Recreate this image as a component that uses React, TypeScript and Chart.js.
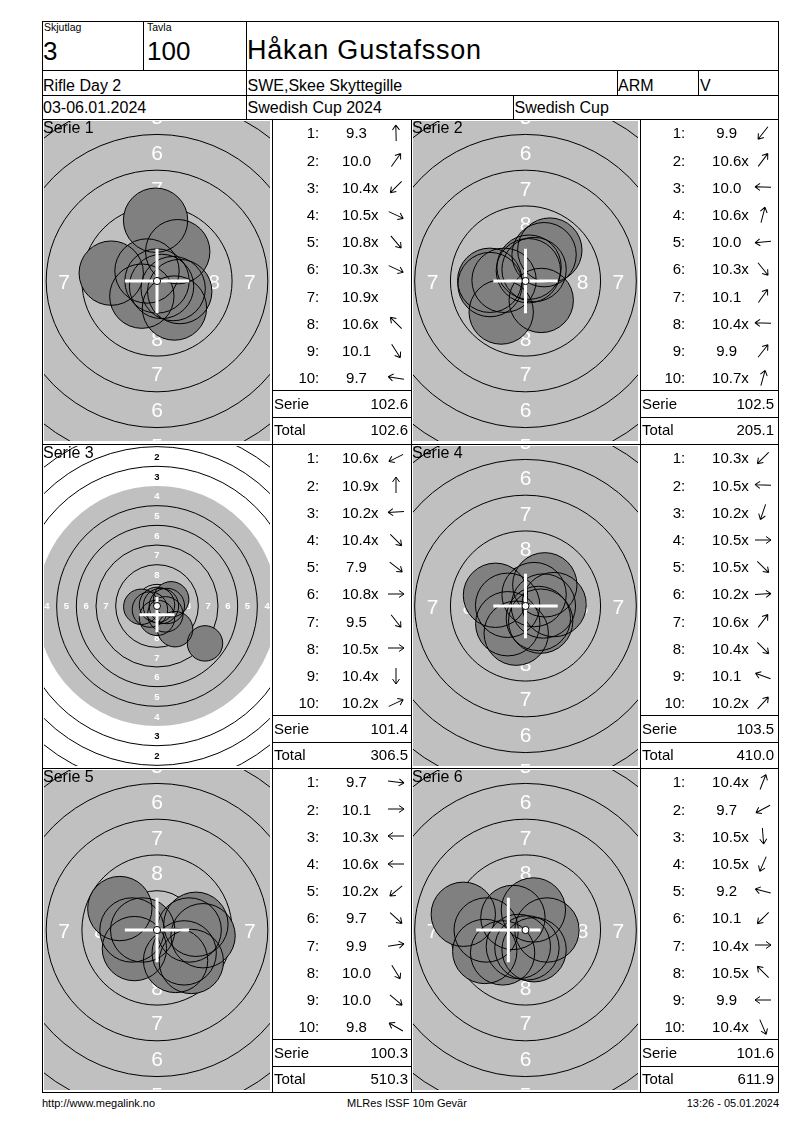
import { useEffect, useRef } from 'react';
import { Chart, registerables } from 'chart.js';

Chart.register(...registerables);

const FONT = '"Liberation Sans", Arial, sans-serif';

// header
const shootingGroup = '3';
const targetNo = '100';
const shooterName = 'Håkan Gustafsson';
const eventName = 'Rifle Day 2';
const clubName = 'SWE,Skee Skyttegille';
const classCode = 'ARM';
const classSuffix = 'V';
const eventDates = '03-06.01.2024';
const competition = 'Swedish Cup 2024';
const cupName = 'Swedish Cup';
const footerLeft = 'http://www.megalink.no';
const footerMid = 'MLRes ISSF 10m Gevär';
const footerRight = '13:26 - 05.01.2024';

// scores per shot ("x" = inner ten)
const serie1Scores = ['9.3', '10.0', '10.4x', '10.5x', '10.8x', '10.3x', '10.9x', '10.6x', '10.1', '9.7'];
const serie2Scores = ['9.9', '10.6x', '10.0', '10.6x', '10.0', '10.3x', '10.1', '10.4x', '9.9', '10.7x'];
const serie3Scores = ['10.6x', '10.9x', '10.2x', '10.4x', '7.9', '10.8x', '9.5', '10.5x', '10.4x', '10.2x'];
const serie4Scores = ['10.3x', '10.5x', '10.2x', '10.5x', '10.5x', '10.2x', '10.6x', '10.4x', '10.1', '10.2x'];
const serie5Scores = ['9.7', '10.1', '10.3x', '10.6x', '10.2x', '9.7', '9.9', '10.0', '10.0', '9.8'];
const serie6Scores = ['10.4x', '9.7', '10.5x', '10.5x', '9.2', '10.1', '10.4x', '10.5x', '9.9', '10.4x'];

// shot positions in mm from the centre (x right, y up)
const serie1X = [-0.1, 1.45, -1.06, 1.13, 0.32, 1.59, 0, -0.7, 1.22, -3.2];
const serie1Y = [4.25, 2.05, -1.06, -0.53, -0.38, -0.74, 0, 0.7, -1.89, 0.55];
const serie2X = [-1.7, 0.6, -2.5, 0.25, -2.48, 1.1, 1.3, -1.5, 1.7, 0.2];
const serie2Y = [-2.17, 0.8, 0.05, 0.97, -0.25, -1.36, 1.84, 0.05, 2.16, 0.72];
const serie3X = [-0.9, 0, -2.0, 1.06, 6.1, 0.5, 2.3, 1.25, 0, 1.8];
const serie3Y = [-0.45, 0.15, -0.1, -1.06, -4.75, 0, -2.95, 0, -1.5, 0.85];
const serie4X = [-1.24, -1.25, -0.65, 1.25, 0.9, 2.0, 0.6, 1.06, -2.1, 1.35];
const serie4Y = [-1.24, 0.05, -1.9, 0, -0.87, 0.1, 0.8, -1.06, 0.75, 1.48];
const serie5X = [3.22, 2.25, -1.75, -1.0, -1.58, 2.4, 2.72, 1.3, 1.9, -2.6];
const serie5Y = [-0.4, 0, 0, 0, -1.3, -2.2, 0.4, -2.13, -1.6, 1.5];
const serie6X = [0.55, -2.85, 0.1, -0.5, -4.35, -1.6, 1.5, -0.88, -2.75, 0.6];
const serie6Y = [1.4, -1.5, -1.25, -1.15, 1.1, -1.6, 0, 0.88, 0, -1.38];

// mean point of impact cross (mm)
const mpiX = [0, 0, 0, 0, 0, -1.2];
const mpiY = [0, 0, -1.1, 0, 0, 0];

// view zoom per series (pixels per mm) and ring number size
const zoomPxPerMm = [14.3, 14.3, 7.87, 14.3, 14.3, 14.3];
const ringLabelPx = [21, 21, 9.5, 21, 21, 21];

const allScores = [serie1Scores, serie2Scores, serie3Scores, serie4Scores, serie5Scores, serie6Scores];
const allX = [serie1X, serie2X, serie3X, serie4X, serie5X, serie6X];
const allY = [serie1Y, serie2Y, serie3Y, serie4Y, serie5Y, serie6Y];

// ISSF 10m air rifle target
const PELLET_R = 2.25;
const ringRadius = (n: number) => 0.25 + (10 - n) * 2.5;

const targetPlugin = {
  id: 'target',
  beforeDatasetsDraw(chart: any, _args: any, opts: any) {
    const { ctx, chartArea, scales } = chart;
    const cx = scales.x.getPixelForValue(0);
    const cy = scales.y.getPixelForValue(0);
    const k = Math.abs(scales.x.getPixelForValue(1) - cx);
    ctx.save();
    ctx.beginPath();
    ctx.rect(chartArea.left, chartArea.top, chartArea.width, chartArea.height);
    ctx.clip();
    ctx.fillStyle = '#ffffff';
    ctx.fillRect(chartArea.left, chartArea.top, chartArea.width, chartArea.height);
    ctx.fillStyle = '#c0c0c0';
    ctx.beginPath();
    ctx.arc(cx, cy, ringRadius(4) * k, 0, Math.PI * 2);
    ctx.fill();
    ctx.strokeStyle = '#000';
    ctx.lineWidth = 1;
    for (let n = 1; n <= 9; n++) {
      if (n === 4) continue;
      ctx.beginPath();
      ctx.arc(cx, cy, ringRadius(n) * k, 0, Math.PI * 2);
      ctx.stroke();
    }
    const px = opts.labelPx;
    ctx.font = `${px < 14 ? 'bold ' : ''}${px}px ${FONT}`;
    ctx.textAlign = 'center';
    ctx.textBaseline = 'alphabetic';
    const lift = px * 0.716 / 2;
    for (let n = 1; n <= 8; n++) {
      const rr = (ringRadius(n) + ringRadius(n + 1)) / 2 * k;
      ctx.fillStyle = n >= 4 ? '#ffffff' : '#000000';
      ctx.fillText(String(n), cx, cy - rr + lift);
      ctx.fillText(String(n), cx, cy + rr + lift);
      ctx.fillText(String(n), cx - rr, cy + lift);
      ctx.fillText(String(n), cx + rr, cy + lift);
    }
    ctx.restore();
  },
  afterDatasetsDraw(chart: any, _args: any, opts: any) {
    const { ctx, scales } = chart;
    const cx = scales.x.getPixelForValue(0);
    const cy = scales.y.getPixelForValue(0);
    const k = Math.abs(scales.x.getPixelForValue(1) - cx);
    const mx = scales.x.getPixelForValue(opts.mpiX);
    const my = scales.y.getPixelForValue(opts.mpiY);
    const arm = PELLET_R * k;
    ctx.save();
    ctx.strokeStyle = '#ffffff';
    ctx.lineWidth = 3;
    ctx.beginPath();
    ctx.moveTo(mx - arm, my);
    ctx.lineTo(mx + arm, my);
    ctx.moveTo(mx, my - arm);
    ctx.lineTo(mx, my + arm);
    ctx.stroke();
    ctx.beginPath();
    ctx.arc(cx, cy, Math.max(3.5, 0.25 * k), 0, Math.PI * 2);
    ctx.fillStyle = '#ffffff';
    ctx.fill();
    ctx.strokeStyle = '#000';
    ctx.lineWidth = 1;
    ctx.stroke();
    ctx.restore();
  },
};

interface TargetChartProps {
  xs: number[];
  ys: number[];
  mx: number;
  my: number;
  ppm: number;
  labelPx: number;
  left: number;
  top: number;
  width: number;
  height: number;
}

const TargetChart = ({ xs, ys, mx, my, ppm, labelPx, left, top, width, height }: TargetChartProps) => {
  const canvasRef = useRef<HTMLCanvasElement>(null);

  useEffect(() => {
    if (!canvasRef.current) return;
    const halfW = width / 2 / ppm;
    const halfH = height / 2 / ppm;
    const points = xs.map((x, i) => ({ x, y: ys[i] }));
    const pelletRadius = (c: any) => {
      const s = c.chart.scales.x;
      return Math.abs(s.getPixelForValue(PELLET_R) - s.getPixelForValue(0));
    };

    const chart = new Chart(canvasRef.current, {
      type: 'scatter',
      data: {
        datasets: [
          {
            data: points,
            order: 2,
            pointRadius: pelletRadius,
            pointHoverRadius: pelletRadius,
            pointBackgroundColor: '#808080',
            pointBorderColor: 'rgba(0,0,0,0)',
            pointBorderWidth: 0,
            clip: 0,
          },
          {
            data: points,
            order: 1,
            pointRadius: pelletRadius,
            pointHoverRadius: pelletRadius,
            pointBackgroundColor: 'rgba(0,0,0,0)',
            pointBorderColor: '#000000',
            pointBorderWidth: 1,
            clip: 0,
          },
        ],
      },
      options: {
        animation: false,
        responsive: false,
        events: [],
        layout: { padding: 0, autoPadding: false },
        scales: {
          x: { type: 'linear', min: -halfW, max: halfW, display: false },
          y: { type: 'linear', min: -halfH, max: halfH, display: false },
        },
        plugins: {
          legend: { display: false },
          tooltip: { enabled: false },
          target: { mpiX: mx, mpiY: my, labelPx },
        } as any,
      },
      plugins: [targetPlugin],
    });

    return () => {
      chart.destroy();
    };
  }, [xs, ys, mx, my, ppm, labelPx, width, height]);

  return (
    <canvas
      ref={canvasRef}
      width={width}
      height={height}
      style={{ position: 'absolute', left, top, width, height }}
    />
  );
};

const Line = ({ x, y, w, h }: { x: number; y: number; w: number; h: number }) => (
  <div style={{ position: 'absolute', left: x, top: y, width: w, height: h, background: '#000' }} />
);

const Txt = ({
  x, base, size, align = 'left', children, spacing = 0,
}: { x: number; base: number; size: number; align?: 'left' | 'right' | 'center'; children: any; spacing?: number }) => {
  const top = base - size * 0.8465;
  const style: any = {
    position: 'absolute', top, fontFamily: FONT, fontSize: size, lineHeight: `${size}px`,
    whiteSpace: 'nowrap', color: '#000', letterSpacing: spacing,
  };
  if (align === 'left') style.left = x;
  if (align === 'right') { style.left = x - 300; style.width = 300; style.textAlign = 'right'; }
  if (align === 'center') { style.left = x - 150; style.width = 300; style.textAlign = 'center'; }
  return <div style={style}>{children}</div>;
};

const Arrow = ({ dx, dy, cx, cy }: { dx: number; dy: number; cx: number; cy: number }) => {
  if (dx === 0 && dy === 0) return null;
  const deg = (-Math.atan2(dy, dx) * 180) / Math.PI;
  return (
    <svg width={22} height={22} style={{ position: 'absolute', left: cx - 11, top: cy - 11 }}>
      <g transform={`translate(11 11) rotate(${deg})`}>
        <path d="M-8 0 L8 0 M8 0 L3 -3.5 M8 0 L3 3.5" stroke="#000" strokeWidth={1} fill="none" />
      </g>
    </svg>
  );
};

const ROW_TOPS = [119, 444, 768];
const COLS = [
  { tl: 42, tr: 272, ll: 272, lr: 411, colonR: 47.3, scoreC: 84.5, arrowC: 123.5, valR: 3 },
  { tl: 411, tr: 640, ll: 640, lr: 778, colonR: 45.3, scoreC: 86.7, arrowC: 122.7, valR: 4 },
];

const App = () => {
  let running = 0;
  const blocks = allScores.map((scores, si) => {
    const row = Math.floor(si / 2);
    const col = COLS[si % 2];
    const T = ROW_TOPS[row];
    const serieSum = scores.reduce((a, s) => a + parseFloat(s), 0);
    running += serieSum;
    const total = running;
    return (
      <div key={si}>
        <TargetChart
          xs={allX[si]}
          ys={allY[si]}
          mx={mpiX[si]}
          my={mpiY[si]}
          ppm={zoomPxPerMm[si]}
          labelPx={ringLabelPx[si]}
          left={col.tl + 2}
          top={T + 2}
          width={col.tr - col.tl - 4}
          height={320}
        />
        <Txt x={col.tl + 1} base={T + 15} size={16}>{`Serie ${si + 1}`}</Txt>
        {scores.map((s, i) => {
          const base = T + 19 + i * 27.2;
          const inner = s.endsWith('x');
          const num = inner ? s.slice(0, -1) : s;
          return (
            <div key={i}>
              <Txt x={col.ll + col.colonR} base={base} size={15} align="right">{`${i + 1}:`}</Txt>
              <Txt x={col.ll + col.scoreC} base={base} size={15} align="center">
                <span style={{ position: 'relative' }}>
                  {num}
                  {inner && <span style={{ position: 'absolute', left: '100%' }}>x</span>}
                </span>
              </Txt>
              <Arrow dx={allX[si][i]} dy={allY[si][i]} cx={col.ll + col.arrowC} cy={T + 14 + i * 27.2} />
            </div>
          );
        })}
        <Line x={col.ll} y={T + 271} w={col.lr - col.ll} h={1} />
        <Line x={col.ll} y={T + 298} w={col.lr - col.ll} h={1} />
        <Txt x={col.ll + 2} base={T + 289.5} size={15}>Serie</Txt>
        <Txt x={col.lr - col.valR} base={T + 289.5} size={15} align="right">{serieSum.toFixed(1)}</Txt>
        <Txt x={col.ll + 2} base={T + 315.7} size={15}>Total</Txt>
        <Txt x={col.lr - col.valR} base={T + 315.7} size={15} align="right">{total.toFixed(1)}</Txt>
      </div>
    );
  });

  return (
    <div style={{ position: 'absolute', left: 0, top: 0, width: 800, height: 1130, background: '#fff' }}>
      {/* header grid */}
      <Line x={42} y={21} w={737} h={1} />
      <Line x={42} y={70} w={737} h={1} />
      <Line x={42} y={95} w={737} h={1} />
      <Line x={42} y={119} w={737} h={1} />
      <Line x={42} y={444} w={737} h={1} />
      <Line x={42} y={768} w={737} h={1} />
      <Line x={42} y={1092} w={737} h={1} />
      <Line x={42} y={21} w={1} h={1072} />
      <Line x={778} y={21} w={1} h={1072} />
      <Line x={143} y={21} w={1} h={49} />
      <Line x={246} y={21} w={1} h={98} />
      <Line x={617} y={70} w={1} h={25} />
      <Line x={698} y={70} w={1} h={25} />
      <Line x={513} y={95} w={1} h={24} />
      <Line x={272} y={119} w={1} h={973} />
      <Line x={411} y={119} w={1} h={973} />
      <Line x={640} y={119} w={1} h={973} />

      <Txt x={44} base={31} size={10.5}>Skjutlag</Txt>
      <Txt x={147} base={31} size={10.5}>Tavla</Txt>
      <Txt x={43} base={60} size={26}>{shootingGroup}</Txt>
      <Txt x={147} base={60} size={26}>{targetNo}</Txt>
      <Txt x={247} base={60} size={27} spacing={0.8}>{shooterName}</Txt>
      <Txt x={43} base={92} size={16}>{eventName}</Txt>
      <Txt x={247.5} base={92} size={16}>{clubName}</Txt>
      <Txt x={618} base={92} size={16}>{classCode}</Txt>
      <Txt x={700} base={92} size={16}>{classSuffix}</Txt>
      <Txt x={43} base={113.5} size={16}>{eventDates}</Txt>
      <Txt x={247.5} base={113.5} size={16}>{competition}</Txt>
      <Txt x={514.5} base={113.5} size={16}>{cupName}</Txt>

      {blocks}

      <Txt x={42} base={1107} size={11}>{footerLeft}</Txt>
      <Txt x={407} base={1107} size={11} align="center">{footerMid}</Txt>
      <Txt x={779} base={1107} size={11} align="right">{footerRight}</Txt>
    </div>
  );
};

export default App;
